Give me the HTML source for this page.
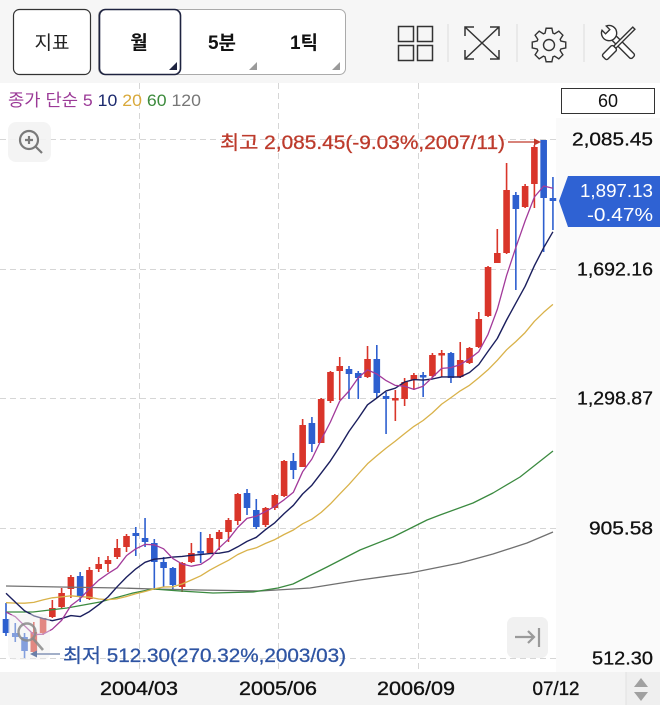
<!DOCTYPE html>
<html><head><meta charset="utf-8">
<style>
html,body{margin:0;padding:0;background:#fff;}
body{width:660px;height:705px;overflow:hidden;position:relative;font-family:"Liberation Sans","Noto Sans CJK KR",sans-serif;}
svg text{font-family:"Liberation Sans","Noto Sans CJK KR",sans-serif;}
</style></head><body>
<svg id="s" width="660" height="705" viewBox="0 0 660 705" xmlns="http://www.w3.org/2000/svg" style="position:absolute;left:0;top:0">
<!-- top toolbar -->
<rect x="0" y="0" width="660" height="83" fill="#f6f6f6"/>
<rect x="13.5" y="9.5" width="77" height="65" rx="6" fill="#fff" stroke="#333" stroke-width="1.2"/>
<text x="52" y="49" font-size="19" text-anchor="middle" fill="#222">지표</text>
<rect x="98.5" y="9.5" width="247" height="65" rx="6" fill="#fff" stroke="#aaa" stroke-width="1"/>
<rect x="99.5" y="9.5" width="81" height="65" rx="6" fill="#fff" stroke="#1e2340" stroke-width="1.6"/>
<text x="139" y="49" font-size="19" font-weight="bold" text-anchor="middle" fill="#111">월</text>
<text x="222" y="49" font-size="19" font-weight="bold" text-anchor="middle" fill="#111">5분</text>
<text x="304" y="49" font-size="19" font-weight="bold" text-anchor="middle" fill="#111">1틱</text>
<polygon points="177,62 177,70 169,70" fill="#1e2340"/>
<polygon points="257,62 257,70 249,70" fill="#9a9a9a"/>
<polygon points="340,62 340,70 332,70" fill="#9a9a9a"/>
<!-- grid icon -->
<g fill="none" stroke="#333" stroke-width="1.5">
<rect x="398.5" y="26.5" width="15" height="15"/>
<rect x="417.5" y="26.5" width="15" height="15"/>
<rect x="398.5" y="45.5" width="15" height="15"/>
<rect x="417.5" y="45.5" width="15" height="15"/>
</g>
<g stroke="#dcdcdc" stroke-width="1">
<line x1="448" y1="24" x2="448" y2="62"/>
<line x1="517" y1="24" x2="517" y2="62"/>
<line x1="584" y1="24" x2="584" y2="62"/>
</g>
<!-- expand icon -->
<path d="M465,27 L499,59 M499,27 L465,59 M465,36 L465,27 L474,27 M490,27 L499,27 L499,36 M465,50 L465,59 L474,59 M499,50 L499,59 L490,59" fill="none" stroke="#333" stroke-width="1.5"/>
<!-- gear -->
<path id="gear" fill="none" stroke="#333" stroke-width="1.4"/>
<circle cx="549" cy="45" r="5.5" fill="none" stroke="#333" stroke-width="1.4"/>
<!-- tools -->
<g transform="translate(619,43) rotate(-45)" fill="#fff" stroke="#333" stroke-width="1.4">
<rect x="-3" y="-8" width="6" height="28" rx="2"/>
<path d="M -3 -21 L -3 -16 L 3 -16 L 3 -21 A 7.6 7.6 0 1 1 -3 -21 Z"/>
</g>
<g transform="translate(619,43) rotate(45)" fill="#fff" stroke="#333" stroke-width="1.4">
<rect x="-1.5" y="-21" width="3" height="27"/>
<rect x="-3.5" y="6" width="7" height="15" rx="2"/>
</g>

<!-- chart bg -->
<rect x="0" y="83" width="660" height="589" fill="#fff"/>
<rect x="556" y="118" width="104" height="554" fill="#fafafa"/>
<!-- grid -->
<g stroke="#d6d6d6" stroke-width="1" stroke-dasharray="6,4">
<line x1="0" y1="139.5" x2="556" y2="139.5"/>
<line x1="0" y1="269.5" x2="556" y2="269.5"/>
<line x1="0" y1="398.5" x2="556" y2="398.5"/>
<line x1="0" y1="528.5" x2="556" y2="528.5"/>
<line x1="0" y1="658.5" x2="556" y2="658.5"/>
<line x1="139.5" y1="83" x2="139.5" y2="672"/>
<line x1="278.5" y1="83" x2="278.5" y2="672"/>
<line x1="418.5" y1="83" x2="418.5" y2="672"/>
</g>
<!-- legend -->
<text x="8" y="106" font-size="17" textLength="193" lengthAdjust="spacingAndGlyphs"><tspan fill="#9b3a97">종가 단순 5 </tspan><tspan fill="#1c2a6e">10 </tspan><tspan fill="#d9a93a">20 </tspan><tspan fill="#3d8b3d">60 </tspan><tspan fill="#777">120</tspan></text>
<rect x="561.5" y="88.5" width="93" height="25" fill="#fff" stroke="#333" stroke-width="1"/>
<text x="608" y="107" font-size="18" text-anchor="middle" fill="#111">60</text>

<g id="plot"></g>

<!-- top-left zoom icon -->
<rect x="8" y="122" width="43" height="40" rx="8" fill="#f3f3f3" fill-opacity="0.9"/>
<circle cx="29" cy="140" r="9" fill="none" stroke="#7a7a7a" stroke-width="2.2"/>
<path d="M25,140 H33 M29,136 V144 M35.5,146.5 L42,153" stroke="#7a7a7a" stroke-width="2.2" fill="none"/>

<!-- bottom-left magnifier overlay -->
<rect x="8" y="614" width="42" height="46" rx="7" fill="#eeeeee" fill-opacity="0.45"/>
<circle cx="27" cy="632" r="8.5" fill="none" stroke="#8a8a8a" stroke-width="2.4" stroke-opacity="0.85"/>
<path d="M33,638.5 L43,650" stroke="#8a8a8a" stroke-width="2.6" stroke-opacity="0.85"/>

<!-- max label -->
<text x="220" y="149" font-size="19" fill="#bd3b2c" stroke="#bd3b2c" stroke-width="0.3" textLength="285" lengthAdjust="spacingAndGlyphs">최고 2,085.45(-9.03%,2007/11)</text>
<line x1="508" y1="142" x2="535" y2="142" stroke="#c0392b" stroke-width="1.2"/>
<polygon points="541,142 534,138.5 534,145.5" fill="#c0392b"/>
<!-- min label -->
<text x="63" y="662" font-size="19" fill="#2f55a3" stroke="#2f55a3" stroke-width="0.3" textLength="283" lengthAdjust="spacingAndGlyphs">최저 512.30(270.32%,2003/03)</text>
<line x1="36" y1="654" x2="60" y2="654" stroke="#6b7fa8" stroke-width="1.2"/>
<polygon points="30,654 37,650.5 37,657.5" fill="#6b7fa8"/>

<!-- scroll to end button -->
<rect x="507" y="617" width="41" height="41" rx="7" fill="#f1f1f1"/>
<path d="M515,637 H534 M528,631 L534,637 L528,643 M539,628 V647" stroke="#9a9a9a" stroke-width="2.2" fill="none"/>

<!-- right axis labels -->
<g font-size="18" fill="#111" stroke="#111" stroke-width="0.3" text-anchor="end">
<text x="653" y="145.5" textLength="81" lengthAdjust="spacingAndGlyphs">2,085.45</text>
<text x="653" y="275.5" textLength="76" lengthAdjust="spacingAndGlyphs">1,692.16</text>
<text x="653" y="404.5" textLength="76" lengthAdjust="spacingAndGlyphs">1,298.87</text>
<text x="653" y="534.5" textLength="64" lengthAdjust="spacingAndGlyphs">905.58</text>
<text x="653" y="664.5" textLength="61" lengthAdjust="spacingAndGlyphs">512.30</text>
</g>
<!-- current price tag -->
<polygon points="568,176 660,176 660,227 568,227 559,201" fill="#2f62d3"/>
<text x="653" y="197" font-size="18" fill="#fff" text-anchor="end" textLength="73" lengthAdjust="spacingAndGlyphs">1,897.13</text>
<text x="653" y="221" font-size="18" fill="#fff" text-anchor="end" textLength="66" lengthAdjust="spacingAndGlyphs">-0.47%</text>

<!-- bottom axis -->
<rect x="0" y="672" width="660" height="33" fill="#f3f3f3"/>
<rect x="626" y="672" width="34" height="33" fill="#efefef"/>
<line x1="626" y1="672" x2="626" y2="705" stroke="#e2e2e2"/>
<polygon points="641,678 648,687 634,687" fill="#a0a0a0"/>
<polygon points="634,692 648,692 641,701" fill="#a0a0a0"/>
<g font-size="19" fill="#111" stroke="#111" stroke-width="0.35" text-anchor="middle">
<text x="139" y="695" textLength="78" lengthAdjust="spacingAndGlyphs">2004/03</text>
<text x="278" y="695" textLength="78" lengthAdjust="spacingAndGlyphs">2005/06</text>
<text x="416" y="695" textLength="78" lengthAdjust="spacingAndGlyphs">2006/09</text>
<text x="556" y="695" textLength="47" lengthAdjust="spacingAndGlyphs">07/12</text>
</g>
</svg>
<script>
(function(){
var NS="http://www.w3.org/2000/svg";
var C=[
[619,633,603,636,'b'],[633,637,623,642,'b'],[637,651,633,658,'b'],[632,652,622,655,'r'],
[618,633,618,635,'r'],[608,617,600,618,'r'],[593,607,588,608,'r'],[577,589,575,598,'r'],
[576,597,572,602,'b'],[570,599,567,600,'r'],[564,569,557,572,'r'],[560,564,556,572,'r'],
[548,557,539,559,'r'],[536,547,534,552,'r'],[533,536,527,556,'b'],[538,542,518,547,'b'],
[543,562,539,590,'b'],[562,568,557,587,'b'],[568,585,567,591,'b'],[563,587,562,592,'r'],
[553,562,543,563,'r'],[551,553,532,563,'b'],[538,553,534,554,'r'],[532,539,530,550,'r'],
[520,532,518,542,'r'],[494,521,493,525,'r'],[493,508,489,515,'b'],[510,527,499,529,'b'],
[508,525,507,527,'r'],[495,508,494,510,'r'],[461,496,460,497,'r'],[461,470,453,479,'b'],
[425,467,419,467,'r'],[423,444,417,452,'b'],[399,443,398,443,'r'],[372,401,371,403,'r'],
[366,371,357,400,'r'],[369,374,366,399,'b'],[373,378,371,399,'b'],[359,377,346,378,'r'],
[359,393,345,398,'b'],[396,399,392,434,'b'],[398,400,390,421,'r'],[382,399,378,406,'r'],
[375,380,373,390,'r'],[375,377,372,397,'b'],[355,376,353,378,'r'],[353,355,350,377,'r'],
[353,378,352,383,'b'],[360,377,342,378,'r'],[348,363,347,364,'r'],[319,347,312,348,'r'],
[267,316,266,317,'r'],[253,263,229,263,'r'],[190,253,163,254,'r'],[195,209,192,290,'b'],
[186,207,184,208,'r'],[147,184,145,208,'r'],[140,198,140,252,'b'],[198,201,177,230,'b']
];
var pre=[595,541,545,480,536,656,693,752,809,906,843,796,743,719,725,646,669,726,628];
function toY(p){return 658-(p-512.3)/3.031;}
var closes=pre.map(toY);
C.forEach(function(c){closes.push(c[4]=='r'?c[0]:c[1]);});
function X(i){return 6+i*9.27;}
var g=document.getElementById('plot');
function el(t,a){var e=document.createElementNS(NS,t);for(var k in a)e.setAttribute(k,a[k]);g.appendChild(e);return e;}
var RED="#d9352a",BLUE="#2d5fcf";
C.forEach(function(c,i){
 var x=X(i),col=c[4]=='r'?RED:BLUE;
 el('rect',{x:(x-0.8).toFixed(2),y:c[2],width:1.6,height:Math.max(c[3]-c[2],1),fill:col});
 var h=Math.max(c[1]-c[0],2.5);
 el('rect',{x:(x-3.3).toFixed(2),y:c[0],width:6.6,height:h,fill:col});
});
function ma(k){var pts=[];for(var i=0;i<C.length;i++){var s=0;for(var j=0;j<k;j++)s+=closes[19+i-j];pts.push(X(i).toFixed(1)+','+(s/k).toFixed(1));}return pts.join(' ');}
var m120=[[6,586],[60,587],[120,588],[153,589],[200,590],[260,591],[310,588],[360,580],[410,573],[460,563],[493,554],[527,543],[553,532]];
var m60=[[6,612],[33,612],[67,608],[100,602],[133,593],[153,589],[180,591],[213,593],[253,592],[278,588],[293,584],[327,567],[360,550],[393,537],[427,520],[440,515],[473,503],[493,493],[520,477],[553,451]];
function pl(a){return a.map(function(p){return p[0]+','+p[1];}).join(' ');}
el('polyline',{points:pl(m120),fill:'none',stroke:'#707070','stroke-width':1.3,'stroke-linejoin':'round'});
el('polyline',{points:pl(m60),fill:'none',stroke:'#3b8a40','stroke-width':1.3,'stroke-linejoin':'round'});
el('polyline',{points:ma(20),fill:'none',stroke:'#d9b24a','stroke-width':1.3,'stroke-linejoin':'round'});
el('polyline',{points:ma(10),fill:'none',stroke:'#1b1f5e','stroke-width':1.4,'stroke-linejoin':'round'});
el('polyline',{points:ma(5),fill:'none',stroke:'#a23a9a','stroke-width':1.3,'stroke-linejoin':'round'});
// gear
var cx=549,cy=45,d='';
for(var k=0;k<8;k++){var a=k*Math.PI/4;
 var P=[[a-0.32,12.5],[a-0.17,17],[a+0.17,17],[a+0.32,12.5]];
 P.forEach(function(p,n){var px=(cx+p[1]*Math.cos(p[0])).toFixed(2),py=(cy+p[1]*Math.sin(p[0])).toFixed(2);d+=(k==0&&n==0?'M':'L')+px+','+py+' ';});
}
document.getElementById('gear').setAttribute('d',d+'Z');
})();
</script>
</body></html>
